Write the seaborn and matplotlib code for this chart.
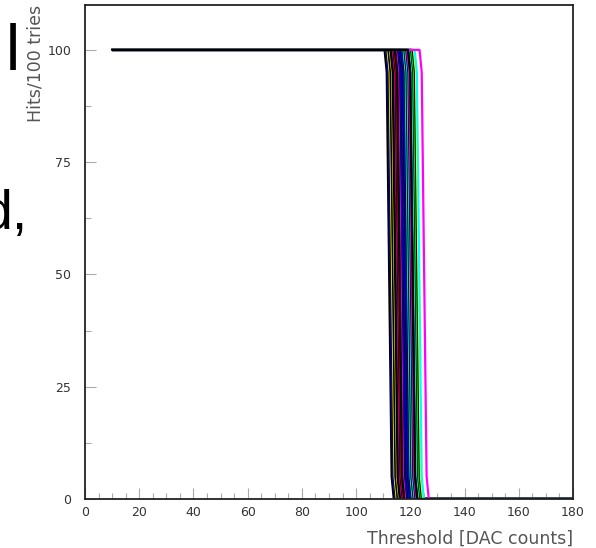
import matplotlib
matplotlib.use("Agg")
import matplotlib.pyplot as plt
import seaborn as sns
import pandas as pd
from matplotlib.ticker import MultipleLocator

# ---- data ----
dac_start = 10.0
dac_end = 180.0
# 50% threshold of each channel's S-curve [DAC counts]
thresholds = [112.2, 112.5, 112.8, 113.1, 113.3, 113.6, 113.9, 114.2, 114.4, 114.7,
              115.0, 115.3, 115.5, 115.8, 116.0, 116.3, 116.6, 116.9, 117.2, 117.4,
              117.7, 118.0, 118.3, 118.6, 118.9, 119.2, 119.5, 119.9, 120.2, 120.5,
              120.8, 121.1, 121.4, 121.7, 122.0, 122.3, 122.6, 123.0, 123.3, 125.1]
channel_colors = ['black', 'black', 'blue', 'black', 'yellow', 'black', 'black', 'yellow', 'black', 'black',
                  'black', 'magenta', 'black', 'red', 'black', 'black', 'black', 'magenta', 'black', 'blue',
                  'black', 'blue', 'black', 'blue', 'black', 'cyan', 'black', 'cyan', 'black', 'magenta',
                  'black', 'black', 'black', 'cyan', 'black', 'lime', 'black', 'yellow', 'cyan', 'magenta']
# shape of the falling edge around the threshold
edge_dx = [-1.7, -0.9, 0.0, 0.9, 1.7]
edge_hits = [100, 95, 50, 5, 0]
# channel drawn last (on top of the common plateau line)
top_channel = 30

rows = []
for ch, t in enumerate(thresholds):
    xs = [dac_start] + [t + d for d in edge_dx] + [dac_end]
    ys = [100] + edge_hits + [0]
    for i, (x, y) in enumerate(zip(xs, ys)):
        rows.append({"channel": ch, "order": i, "dac": x, "hits": y})
df = pd.DataFrame(rows)

draw_order = [c for c in range(len(thresholds)) if c != top_channel] + [top_channel]
palette = {c: channel_colors[c] for c in range(len(thresholds))}

sns.set_style("white")
plt.rcParams['font.family'] = ['DejaVu Sans']

fig = plt.figure(figsize=(5.96, 5.48), dpi=100)
ax = fig.add_axes([85/596, 1-499/548, 488/596, 494/548])

sns.lineplot(data=df, x="dac", y="hits", hue="channel", hue_order=draw_order, palette=palette,
             estimator=None, sort=False, legend=False, linewidth=1.6, ax=ax)

ax.set_xlim(0, 180)
ax.set_ylim(0, 110)
ax.xaxis.set_major_locator(MultipleLocator(20))
ax.xaxis.set_minor_locator(MultipleLocator(5))
ax.yaxis.set_major_locator(MultipleLocator(25))
ax.yaxis.set_minor_locator(MultipleLocator(12.5))
ax.tick_params(which='both', direction='in', color='#aaaaaa', labelcolor='#333333',
               labelsize=9, bottom=True, left=True, top=False, right=False)
ax.tick_params(which='major', length=8, width=0.8)
ax.tick_params(which='minor', length=4, width=0.8)
ax.tick_params(axis='x', pad=5)
ax.tick_params(axis='y', pad=10)
for s in ax.spines.values():
    s.set_color('#222222')
    s.set_linewidth(1.3)

ax.set_xlabel("Threshold [DAC counts]", fontsize=12.5, color='#555555', ha='right', x=1.0, labelpad=8)
ax.set_ylabel("Hits/100 tries", fontsize=12.5, color='#555555', ha='right', y=1.0, labelpad=2)

# fragments of slide text at the left edge
fig.text(12.5/596, 1-70/548, "l", fontsize=46, ha='center', va='baseline', color='black',
         family='Liberation Sans')
fig.text(28/596, 1-229/548, "d,", fontsize=40, ha='right', va='baseline', color='black',
         family='Liberation Sans')

fig.savefig("out.png", dpi=100)
